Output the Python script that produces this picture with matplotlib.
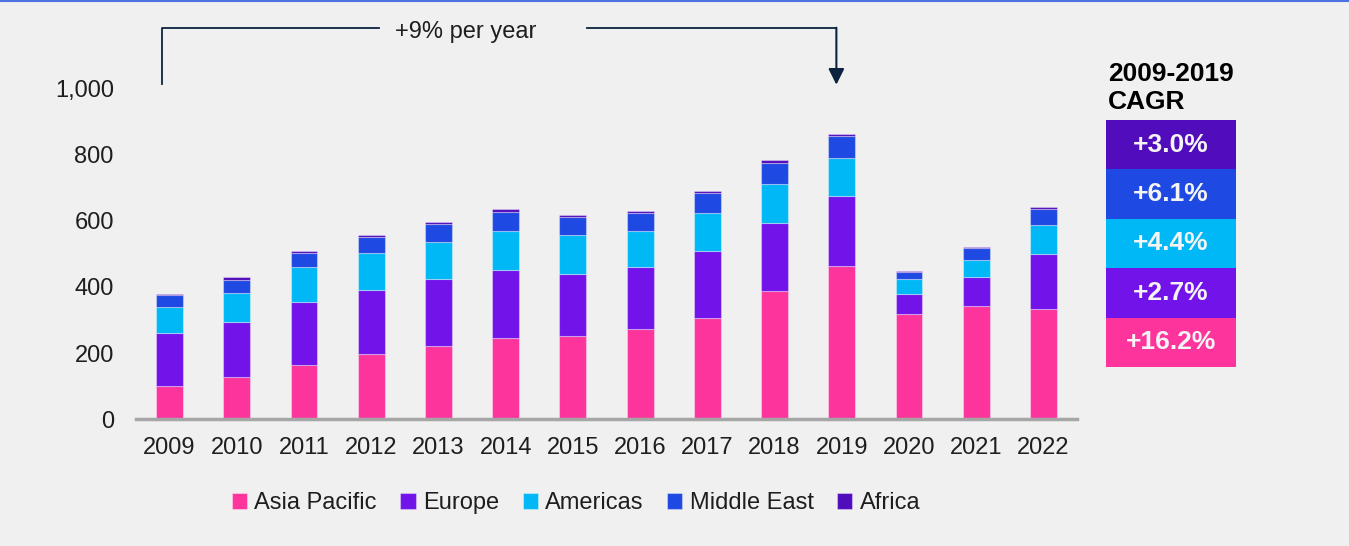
import matplotlib
matplotlib.use("Agg")
import matplotlib.pyplot as plt
import numpy as np
from matplotlib.lines import Line2D

plt.rcParams['font.family'] = ['Liberation Sans', 'DejaVu Sans']

years = ['2009', '2010', '2011', '2012', '2013', '2014', '2015',
         '2016', '2017', '2018', '2019', '2020', '2021', '2022']
asia_pacific = [100, 127, 164, 197, 220, 245, 251, 272, 305, 386, 462, 319, 341, 332]
europe = [160, 167, 189, 193, 202, 206, 188, 188, 202, 207, 211, 60, 89, 167]
americas = [80, 88, 106, 112, 112, 116, 116, 107, 116, 118, 117, 43, 50, 86]
middle_east = [34, 39, 43, 47, 56, 59, 55, 56, 61, 64, 65, 24, 37, 50]
africa = [5, 9, 6, 7, 7, 10, 7, 7, 6, 8, 7, 2, 3, 6]

regions = ['Asia Pacific', 'Europe', 'Americas', 'Middle East', 'Africa']
colors = ['#FD349C', '#7213EA', '#00B8F5', '#1E49E2', '#510DBC']
cagr = ['+16.2%', '+2.7%', '+4.4%', '+6.1%', '+3.0%']

bg = '#F0F0F0'
txt = '#1E1E1E'

fig = plt.figure(figsize=(13.49, 5.46), dpi=100, facecolor=bg)
ax = fig.add_axes([136 / 1349, 1 - 419.3 / 546, (1077 - 136) / 1349, (419.3 - 88) / 546])
ax.set_facecolor(bg)

x = np.arange(len(years))
bottom = np.zeros(len(years))
for name, vals, c in zip(regions, [asia_pacific, europe, americas, middle_east, africa], colors):
    ax.bar(x, vals, 0.4, bottom=bottom, color=c, label=name,
           edgecolor=(1, 1, 1, 0.35), linewidth=0.8)
    bottom += np.array(vals)

ax.set_xlim(-0.5, 13.5)
ax.set_ylim(0, 1000)
ax.set_xticks(x)
ax.set_xticklabels(years)
ax.set_yticks(np.arange(0, 1001, 200))
ax.set_yticklabels([f'{v:,}' for v in range(0, 1001, 200)])
ax.tick_params(axis='both', length=0, labelsize=17, colors=txt)
ax.tick_params(axis='y', pad=16)
ax.tick_params(axis='x', pad=13)
for s in ['top', 'right', 'left']:
    ax.spines[s].set_visible(False)
ax.spines['bottom'].set_color('#A6A6A6')
ax.spines['bottom'].set_linewidth(2.5)

# growth annotation
lc = '#0C233F'
ax.plot([-0.11, -0.11, 3.12], [1012, 1181, 1181], color=lc, lw=1.3, clip_on=False)
ax.plot([6.21, 9.92], [1181, 1181], color=lc, lw=1.3, clip_on=False)
ax.annotate('', xy=(9.92, 1010), xytext=(9.92, 1182), annotation_clip=False,
            arrowprops=dict(arrowstyle='-|>', color=lc, lw=1.5, mutation_scale=24,
                            shrinkA=0, shrinkB=0))
ax.text(4.4, 1168, '+9% per year', ha='center', va='center', fontsize=17, color=txt)

# legend
leg = fig.legend(loc='center', bbox_to_anchor=(576 / 1349, 1 - 503 / 546), ncol=5,
                 frameon=False, fontsize=17, handlelength=0.65, handleheight=0.65,
                 handletextpad=0.3, columnspacing=1.0, labelcolor=txt)

# CAGR box
ax2 = fig.add_axes([1106 / 1349, 1 - 367 / 546, 130 / 1349, 247 / 546])
ax2.set_xlim(-0.5, 0.5)
ax2.set_ylim(0, len(cagr))
ax2.axis('off')
for i, (lab, c) in enumerate(zip(cagr, colors)):
    ax2.bar(0, 1, 1, bottom=i, color=c, linewidth=0)
    ax2.text(0, i + 0.5, lab, ha='center', va='center', fontsize=19,
             fontweight='bold', color='#F4F4F4')

fig.text(1108 / 1349, 1 - 62 / 546, '2009-2019\nCAGR', ha='left', va='top',
         fontsize=19, fontweight='bold', color='black', linespacing=1.2)

# top accent line
fig.add_artist(Line2D([0, 1], [0.998, 0.998], transform=fig.transFigure,
                      color='#4F72E3', lw=1.5))

fig.savefig('out.png', dpi=100, facecolor=bg)
